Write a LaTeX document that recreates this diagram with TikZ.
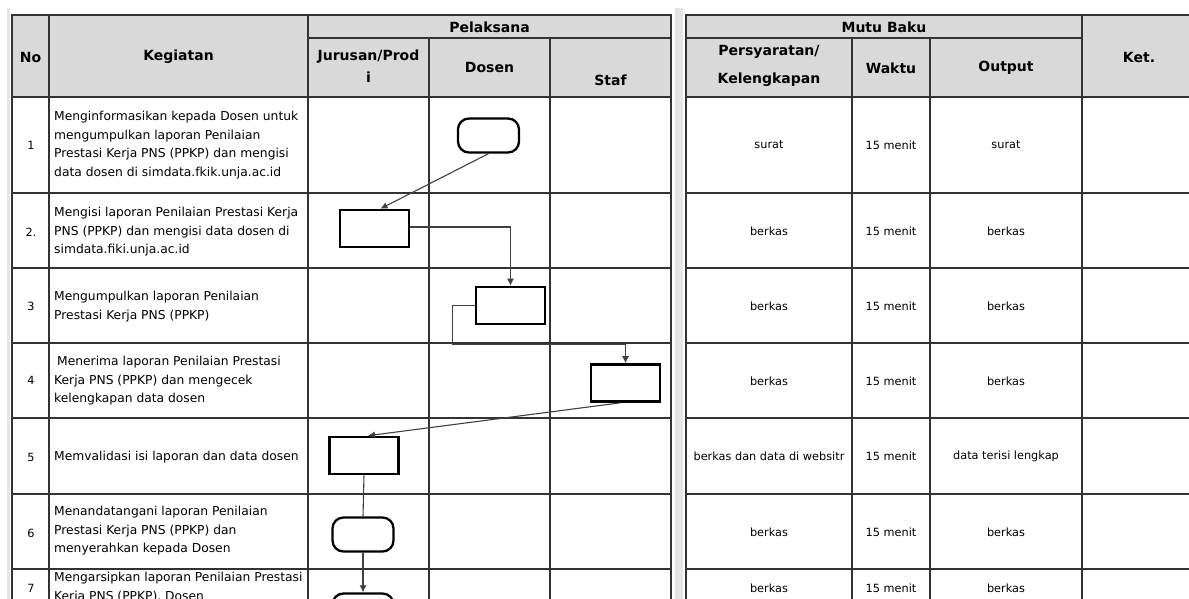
\documentclass[tikz,border=0pt]{standalone}
\usepackage{fontspec}
\setmainfont{DejaVu Sans}
\usetikzlibrary{arrows.meta,calc}
\begin{document}
\begin{tikzpicture}[x=1pt,y=-1pt,
  grid/.style={line width=1.2pt, draw=black!80},
  hdr/.style={font=\bfseries\fontsize{14}{28}\selectfont, inner sep=0pt, align=center},
  body/.style={font=\fontsize{12.3}{18.5}\selectfont, inner sep=0pt, anchor=west, align=left},
  cell/.style={font=\fontsize{11.3}{13}\selectfont, inner sep=0pt},
  proc/.style={draw=black, line width=2.6pt, minimum width=69pt, minimum height=37pt, inner sep=0pt},
  term/.style={draw=black, line width=2.3pt, rounded corners=11pt, minimum width=61pt, minimum height=34pt, inner sep=0pt},
  conn/.style={line width=1.1pt, draw=black!75},
  arr/.style={conn, -{Latex[length=7pt,width=7pt]}}]
\useasboundingbox (0,0) rectangle (1189,599);
\clip (0,0) rectangle (1189,599);
\fill[white] (0,0) rectangle (1189,599);
% gray strips
\fill[black!10] (7,8) rectangle (10,599);
\fill[black!10] (675,8) rectangle (683,599);
% header fills
\fill[black!15] (12,15) rectangle (671,97);
\fill[black!15] (686,15) rectangle (1200,97);
% left table grid
\draw[grid] (12,15) rectangle (671,650);
\draw[grid] (49,15) -- (49,650);
\draw[grid] (308,15) -- (308,650);
\draw[grid] (429,38) -- (429,650);
\draw[grid] (550,38) -- (550,650);
\draw[grid] (308,38) -- (671,38);
\foreach \y in {97,193,268,343,418,494,569} \draw[grid] (12,\y) -- (671,\y);
% right table grid
\draw[grid] (686,15) rectangle (1200,650);
\draw[grid] (852,38) -- (852,650);
\draw[grid] (930,38) -- (930,650);
\draw[grid] (1082,15) -- (1082,650);
\draw[grid] (686,38) -- (1082,38);
\foreach \y in {97,193,268,343,418,494,569} \draw[grid] (686,\y) -- (1200,\y);
% headers
\node[hdr] (hno) at (30.5,57) {No};
\node[hdr] (hkeg) at (178.5,57) {Kegiatan};
\node[hdr] (hpel) at (489.5,27) {Pelaksana};
\node[hdr] (hjur1) at (368.5,57) {Jurusan/Prod};
\node[hdr] (hjur2) at (368.5,77) {i};
\node[hdr] (hdos) at (489.5,67) {Dosen};
\node[hdr] (hstaf) at (610.5,80) {Staf};
\node[hdr] (hmutu) at (884,27) {Mutu Baku};
\node[hdr] (hper1) at (769,52) {Persyaratan/};
\node[hdr] (hper2) at (769,80) {Kelengkapan};
\node[hdr] (hwak) at (891,68) {Waktu};
\node[hdr] (hout) at (1006,68) {Output};
\node[hdr] (hket) at (1139,57) {Ket.};
% numbers
\node[cell] (n1) at (31,145) {1};
\node[cell] (n2) at (31,232) {2.};
\node[cell] (n3) at (31,306) {3};
\node[cell] (n4) at (31,380) {4};
\node[cell] (n5) at (31,457) {5};
\node[cell] (n6) at (31,533) {6};
\node[cell] (n7) at (31,588) {7};
% activities
\node[body] (k1) at (54,145) {Menginformasikan kepada Dosen untuk\\mengumpulkan laporan Penilaian\\Prestasi Kerja PNS (PPKP) dan mengisi\\data dosen di simdata.fkik.unja.ac.id};
\node[body] (k2) at (54,232) {Mengisi laporan Penilaian Prestasi Kerja\\PNS (PPKP) dan mengisi data dosen di\\simdata.fiki.unja.ac.id};
\node[body] (k3) at (54,306.5) {Mengumpulkan laporan Penilaian\\Prestasi Kerja PNS (PPKP)};
\node[body] (k4) at (54,381) {\hspace{3pt}Menerima laporan Penilaian Prestasi\\Kerja PNS (PPKP) dan mengecek\\kelengkapan data dosen};
\node[body] (k5) at (54,457) {Memvalidasi isi laporan dan data dosen};
\node[body] (k6) at (54,531) {Menandatangani laporan Penilaian\\Prestasi Kerja PNS (PPKP) dan\\menyerahkan kepada Dosen};
\node[body] (k7) at (54,587.5) {Mengarsipkan laporan Penilaian Prestasi\\Kerja PNS (PPKP), Dosen};
% mutu baku
\node[cell] (p1) at (769,145) {surat};
\node[cell] (w1) at (891,145) {15 menit};
\node[cell] (o1) at (1006,145) {surat};
\node[cell] (p2) at (769,231) {berkas};
\node[cell] (w2) at (891,231) {15 menit};
\node[cell] (o2) at (1006,231) {berkas};
\node[cell] (p3) at (769,306) {berkas};
\node[cell] (w3) at (891,306) {15 menit};
\node[cell] (o3) at (1006,306) {berkas};
\node[cell] (p4) at (769,381) {berkas};
\node[cell] (w4) at (891,381) {15 menit};
\node[cell] (o4) at (1006,381) {berkas};
\node[cell] (p5) at (769,456) {berkas dan data di websitr};
\node[cell] (w5) at (891,456) {15 menit};
\node[cell] (o5) at (1006,456) {data terisi lengkap};
\node[cell] (p6) at (769,532) {berkas};
\node[cell] (w6) at (891,532) {15 menit};
\node[cell] (o6) at (1006,532) {berkas};
\node[cell] (p7) at (769,588) {berkas};
\node[cell] (w7) at (891,588) {15 menit};
\node[cell] (o7) at (1006,588) {berkas};
% flow shapes
\node[term] (t1) at (488.5,135.5) {};
\node[proc] (r2) at (374.5,228.5) {};
\node[proc] (r3) at (510.5,305.5) {};
\node[proc] (r4) at (625.5,383) {};
\node[proc] (r5) at (364,455.5) {};
\node[term] (t6) at (363,534.5) {};
\node[term] (t7) at (363,610.5) {};
% connectors
\draw[arr] (t1.south) -- ([xshift=6pt]r2.north);
\draw[arr] ([yshift=1.5pt]r2.east) -| (r3.north);
\draw[arr] (r3.west) -- ++(-22,0) |- ($(r4.north)+(0,-19)$) -- (r4.north);
\draw[arr] ([xshift=-5pt]r4.south) -- ([xshift=4pt]r5.north);
\draw[conn] (r5.south) -- (t6.north);
\draw[arr] (t6.south) -- (t7.north);
\end{tikzpicture}
\end{document}
